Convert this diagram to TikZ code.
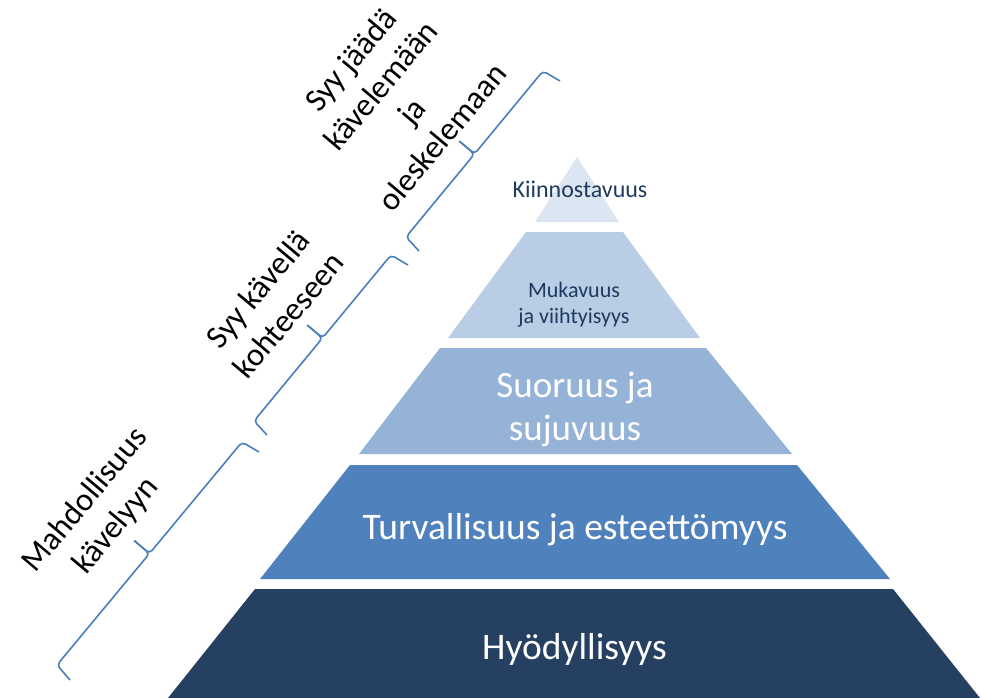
\documentclass[tikz,border=0pt]{standalone}
\usepackage{fontspec}
\setmainfont{Carlito}
\definecolor{lay1}{HTML}{DCE6F2}
\definecolor{lay2}{HTML}{B9CDE5}
\definecolor{lay3}{HTML}{95B3D7}
\definecolor{lay4}{HTML}{4F81BD}
\definecolor{lay5}{HTML}{254061}
\definecolor{dtext}{HTML}{1F3A5F}
\definecolor{bracec}{HTML}{4A7EBB}
\begin{document}
\begin{tikzpicture}[x=1pt,y=-1pt,
  ptext/.style={inner sep=0pt, anchor=base},
  lbl/.style={inner sep=0pt, align=center, rotate=50, text=black,
    font=\fontsize{32.5}{40}\selectfont},
  bracepath/.style={draw=bracec, line width=1.6pt, rounded corners=4pt, line join=round}]
\useasboundingbox (0,0) rectangle (982,698);
% pyramid layers
\fill[lay1] (577,157) -- (619,222) -- (535,222) -- cycle;
\fill[lay2] (526,232) -- (623,232) -- (700,338) -- (448,338) -- cycle;
\fill[lay3] (440,348) -- (706,348) -- (792,454) -- (359,454) -- cycle;
\fill[lay4] (350,465) -- (797,465) -- (890,579) -- (260,579) -- cycle;
\fill[lay5] (255,589) -- (893,589) -- (980,698) -- (168,698) -- cycle;
% pyramid texts
\node[ptext, text=dtext, font=\fontsize{24}{29}\selectfont] (t1) at (580,197) {Kiinnostavuus};
\node[ptext, text=dtext, font=\fontsize{22}{27}\selectfont] (t2a) at (574,297) {Mukavuus};
\node[ptext, text=dtext, font=\fontsize{22}{27}\selectfont] (t2b) at (574,323) {ja viihtyisyys};
\node[ptext, text=white, font=\fontsize{37}{45}\selectfont] (t3a) at (575,397) {Suoruus ja};
\node[ptext, text=white, font=\fontsize{37}{45}\selectfont] (t3b) at (575,440) {sujuvuus};
\node[ptext, text=white, font=\fontsize{37.5}{46}\selectfont] (t4) at (575,539) {Turvallisuus ja esteettömyys};
\node[ptext, text=white, font=\fontsize{37.5}{46}\selectfont] (t5) at (574.5,659) {Hyödyllisyys};
% braces
\coordinate (b1e1) at (70,680);  \coordinate (b1c1) at (57,665);
\coordinate (b1j) at (149.5,553.5); \coordinate (b1t) at (134.2,540.6);
\coordinate (b1c2) at (242,442); \coordinate (b1e2) at (259,452);
\coordinate (b2e1) at (267,435); \coordinate (b2c1) at (254,421);
\coordinate (b2j) at (322.5,338); \coordinate (b2t) at (307.2,325.1);
\coordinate (b2c2) at (391,255); \coordinate (b2e2) at (408,265);
\coordinate (b3e1) at (419,251); \coordinate (b3c1) at (406,237);
\coordinate (b3j) at (474.5,154); \coordinate (b3t) at (459.2,141.1);
\coordinate (b3c2) at (543,71); \coordinate (b3e2) at (560,81);
\foreach \b in {b1,b2,b3}{
  \draw[bracepath] (\b e1) -- (\b c1) -- (\b j) -- (\b t);
  \draw[bracepath] (\b t) -- (\b j) -- (\b c2) -- (\b e2);
}
% labels
\node[lbl] (l1) at (101,513) {Mahdollisuus\\kävelyyn};
\node[lbl] (l2) at (273,302) {Syy kävellä\\kohteeseen};
\node[lbl] (l3) at (396,98) {Syy jäädä\\kävelemään\\ja\\oleskelemaan};
\end{tikzpicture}
\end{document}
